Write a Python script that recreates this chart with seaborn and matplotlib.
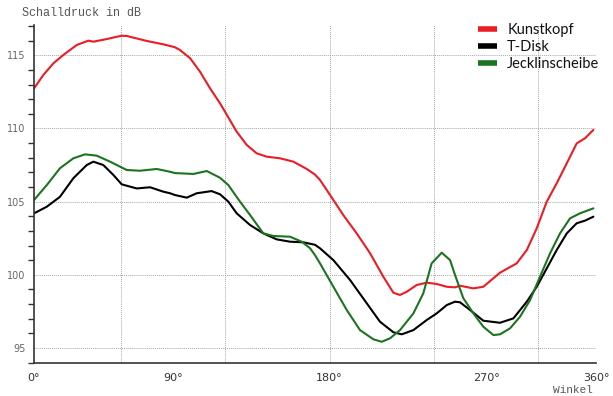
import numpy as np
import pandas as pd
import matplotlib
matplotlib.use("Agg")
import matplotlib.pyplot as plt
from matplotlib.ticker import MultipleLocator, FixedLocator
import seaborn as sns

# ---- data (angle in degrees, level in dB) ----
kunstkopf_deg = [10.1, 15.4, 21.2, 26.9, 34.6, 41.3, 44.2, 51.9, 60.5, 63.4, 74.9, 84.4, 91.1, 94.0,
                 99.8, 105.5, 111.3, 117.0, 119.9, 126.6, 132.4, 138.1, 143.9, 151.5, 159.2, 166.9,
                 171.6, 174.5, 180.3, 187.9, 195.6, 203.3, 210.9, 216.7, 220.5, 224.4, 230.1, 235.9,
                 241.6, 247.4, 252.1, 255.0, 262.7, 268.4, 278.0, 287.6, 293.4, 299.1, 304.9, 310.6,
                 316.4, 322.1, 326.9, 331.7]
kunstkopf_db = [112.74, 113.65, 114.45, 115.02, 115.7, 116.0, 115.93, 116.11, 116.34, 116.32, 115.98,
                115.75, 115.55, 115.36, 114.8, 113.88, 112.74, 111.72, 111.14, 109.78, 108.87, 108.3,
                108.07, 107.96, 107.73, 107.23, 106.85, 106.48, 105.45, 104.08, 102.83, 101.47, 99.87,
                98.77, 98.62, 98.84, 99.3, 99.46, 99.37, 99.18, 99.14, 99.25, 99.07, 99.18, 100.14,
                100.78, 101.69, 103.17, 105.0, 106.25, 107.62, 108.98, 109.33, 109.9]

tdisk_deg = [10.1, 17.4, 25.0, 32.7, 40.4, 44.2, 49.9, 55.7, 60.5, 69.1, 76.8, 84.4, 88.3, 91.1, 97.9,
             103.6, 112.2, 117.0, 121.8, 126.6, 134.3, 141.9, 149.6, 157.3, 164.9, 171.6, 174.5, 182.2,
             191.8, 201.4, 209.0, 216.7, 221.5, 228.2, 235.9, 241.6, 247.4, 252.1, 255.0, 260.8, 268.4,
             278.0, 285.7, 293.4, 299.1, 304.9, 310.6, 316.4, 322.1, 326.9, 331.7]
tdisk_db = [104.2, 104.65, 105.33, 106.6, 107.5, 107.73, 107.5, 106.82, 106.18, 105.9, 105.98, 105.68,
            105.57, 105.45, 105.27, 105.57, 105.72, 105.5, 105.0, 104.2, 103.4, 102.83, 102.42, 102.26,
            102.22, 102.05, 101.81, 101.0, 99.64, 98.05, 96.79, 96.07, 95.93, 96.22, 96.91, 97.36, 97.93,
            98.16, 98.12, 97.59, 96.86, 96.72, 97.02, 98.16, 99.18, 100.44, 101.69, 102.83, 103.52,
            103.7, 103.97]

jecklin_deg = [10.1, 17.4, 25.0, 32.7, 39.4, 46.1, 53.8, 63.4, 71.0, 80.6, 88.3, 91.1, 101.7, 109.4,
               117.0, 121.8, 128.5, 134.3, 141.9, 147.7, 157.3, 164.0, 168.8, 171.6, 174.5, 182.2,
               189.9, 197.5, 205.2, 210.0, 214.8, 220.5, 228.2, 233.9, 238.7, 244.5, 249.3, 252.1,
               256.9, 262.7, 268.4, 274.2, 278.0, 283.8, 289.5, 295.3, 301.0, 306.8, 312.5, 318.3,
               324.0, 331.7]
jecklin_db = [105.11, 106.13, 107.28, 107.96, 108.23, 108.14, 107.73, 107.16, 107.11, 107.23, 107.04,
              106.95, 106.89, 107.09, 106.63, 106.13, 105.0, 104.08, 102.83, 102.65, 102.6, 102.26,
              101.81, 101.35, 100.78, 99.18, 97.59, 96.22, 95.59, 95.42, 95.66, 96.22, 97.36, 98.73,
              100.78, 101.51, 101.0, 100.0, 98.4, 97.36, 96.45, 95.88, 95.93, 96.34, 97.13, 98.27,
              99.87, 101.47, 102.83, 103.86, 104.2, 104.54]

series_names = ["Kunstkopf", "T-Disk", "Jecklinscheibe"]
series_colors = ["#ec1c24", "#000000", "#1c7420"]
x_tick_values = [90, 180, 270]
x_tick_labels = ["0°", "90°", "180°", "270°", "360°"]
y_tick_values = [95, 100, 105, 110, 115]

df = pd.concat([
    pd.DataFrame({"Winkel": kunstkopf_deg, "dB": kunstkopf_db, "Serie": series_names[0]}),
    pd.DataFrame({"Winkel": tdisk_deg, "dB": tdisk_db, "Serie": series_names[1]}),
    pd.DataFrame({"Winkel": jecklin_deg, "dB": jecklin_db, "Serie": series_names[2]}),
], ignore_index=True)

sns.set_style("white")
plt.rcParams["font.family"] = ["DejaVu Sans"]

fig = plt.figure(figsize=(6.13, 3.96), dpi=100)
ax = fig.add_axes([34 / 613, 1 - 363 / 396, (596 - 34) / 613, (363 - 25) / 396])

x_min, x_max = 10.06, 333.2
ax.set_xlim(x_min, x_max)
ax.set_ylim(93.97, 117.07)

grid_kw = dict(color="#a8a8a8", linestyle=(0, (1, 1)), linewidth=0.7)
for gx in [60, 120, 180, 240, 300]:
    ax.axvline(gx, zorder=0, **grid_kw)
for gy in y_tick_values:
    ax.axhline(gy, zorder=0, **grid_kw)

sns.lineplot(data=df, x="Winkel", y="dB", hue="Serie", palette=dict(zip(series_names, series_colors)),
             linewidth=1.5, ax=ax, sort=False, estimator=None)
for line in ax.get_lines():
    line.set_solid_joinstyle("round")

for s in ["top", "right"]:
    ax.spines[s].set_visible(False)
for s in ["left", "bottom"]:
    ax.spines[s].set_color("#333333")
    ax.spines[s].set_linewidth(1.2)

ax.set_xticks([x_min] + x_tick_values + [x_max])
ax.set_xticklabels(x_tick_labels)
ax.yaxis.set_major_locator(FixedLocator(y_tick_values))
ax.yaxis.set_minor_locator(MultipleLocator(1))
ax.tick_params(axis="x", which="major", length=5, width=1, color="#333333", direction="out",
               labelsize=8, labelcolor="#333333", pad=2)
ax.tick_params(axis="y", which="major", length=4, width=1, color="#333333", direction="out",
               labelsize=7, labelcolor="#666666", pad=2)
ax.tick_params(axis="y", which="minor", length=4, width=1, color="#333333", direction="out", left=True)
xt = ax.xaxis.get_major_ticks()
xt[0].tick1line.set_visible(False)
xt[-1].tick1line.set_visible(False)
ax.set_xlabel("")
ax.set_ylabel("")

fig.text(22 / 613, 1 - 13 / 396, "Schalldruck in dB", family="Liberation Mono", fontsize=8.5,
         color="#555555", va="center", ha="left")
fig.text(593 / 613, 1 - 390 / 396, "Winkel", family="Liberation Mono", fontsize=8,
         color="#555555", va="center", ha="right")

handles, labels = ax.get_legend_handles_labels()
for h in handles:
    h.set_linewidth(4)
    h.set_solid_capstyle("butt")
leg = ax.legend(handles, labels, frameon=False, loc="upper left",
                bbox_to_anchor=((478 - 34) / 562, 1.005), borderaxespad=0, borderpad=0,
                handlelength=1.3, handletextpad=0.7, labelspacing=0.2,
                prop={"family": "Lato", "size": 10.5})
for t in leg.get_texts():
    t.set_color("#111111")

fig.savefig("out.png", dpi=100)
